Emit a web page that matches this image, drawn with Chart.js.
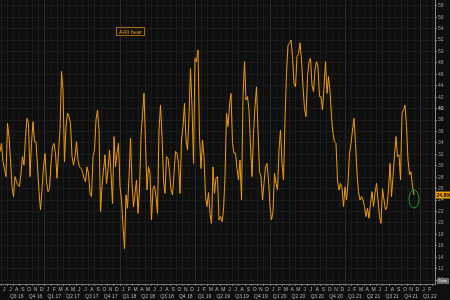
<!DOCTYPE html>
<html lang="en">
<head>
<meta charset="UTF-8" />
<title>AAII bear</title>
<script src="https://cdn.jsdelivr.net/npm/chart.js"></script>
<style>
  html, body { margin: 0; padding: 0; background: #0f0f0f; }
  .chart-box { width: 450px; height: 300px; position: relative; }
</style>
</head>
<body>
<div class="chart-box"><canvas id="bearChart"></canvas></div>
<script>
// weekly AAII bearish reading (%), mid 2016 -> end 2021
const bearValues = [
  32.45, 33.9, 30.7, 29.5, 28.1, 37.4, 35.1, 31.0, 26.35, 24.6,
  28.1, 27.2, 26.6, 26.35, 28.65, 31.6, 30.1, 35.1, 38.3, 37.4,
  28.1, 33.9, 37.7, 34.2, 34.2, 29.8, 25.45, 22.25, 25.75, 29.8,
  32.15, 27.2, 25.45, 26.0, 30.4, 33.3, 33.9, 32.15, 27.8, 32.45,
  36.25, 46.5, 43.25, 30.7, 36.8, 39.2, 38.6, 37.4, 31.6, 30.1,
  31.6, 34.2, 31.0, 29.8, 29.5, 28.95, 27.8, 27.2, 29.8, 28.65,
  25.2, 24.6, 31.6, 32.75, 38.0, 39.75, 36.25, 21.95, 26.35, 29.25,
  31.9, 26.9, 29.25, 32.75, 28.65, 23.4, 35.1, 29.8, 32.15, 33.9,
  26.35, 24.0, 19.35, 15.5, 24.9, 22.55, 28.1, 34.8, 26.9, 22.8,
  25.2, 27.5, 21.65, 25.75, 35.1, 38.9, 42.7, 33.9, 25.75, 29.8,
  28.65,
  20.5, 26.0, 26.5, 24.6, 21.65, 36.25, 40.6, 35.1, 27.5, 25.15,
  31.6, 31.3, 29.0, 25.75, 24.9, 28.65, 32.5, 32.2, 30.4, 25.15,
  34.5, 36.85, 40.9, 34.5, 32.75, 38.6, 47.0, 40.35, 30.4, 48.8,
  48.2, 50.25, 35.1, 29.5, 34.5, 31.6, 24.6, 22.85, 25.3, 21.65,
  19.9, 29.8, 25.15, 27.8, 28.1, 20.5, 21.1, 20.2, 22.25, 28.1,
  39.2, 36.85, 40.6, 42.65, 33.9, 32.2, 32.2, 29.5, 27.5, 31.0,
  24.0, 42.1, 48.2, 41.5, 42.1, 39.75, 33.3, 28.1, 35.65, 40.35,
  43.8, 36.25, 28.95, 28.1, 24.0, 26.9, 29.8, 30.4, 27.5, 22.85,
  20.5, 21.95, 28.65, 26.9, 25.75, 32.75, 36.25, 30.4, 27.5, 38.0,
  46.15, 51.1, 51.4, 52.0, 49.1, 44.4, 43.8, 49.1, 49.6, 51.5,
  48.5, 43.8, 40.0, 38.6, 45.6, 48.2, 48.8, 44.1, 42.95, 46.75,
  48.2, 47.3, 42.1, 42.1, 39.75, 43.8, 48.2, 42.65, 45.6, 42.95,
  38.6, 35.65, 34.2, 33.9, 27.5, 25.75, 26.9, 26.0, 22.85, 26.3,
  24.0, 26.9, 32.2, 33.9, 36.25, 38.3, 33.9, 28.65, 25.45, 24.0,
  24.6, 24.0, 22.85, 21.1, 22.55, 20.8, 23.4, 25.45, 22.85, 25.15,
  26.9, 24.0, 21.1, 19.9, 26.0, 24.0, 22.25, 22.85, 26.0, 30.4,
  24.6, 28.1, 31.9, 35.1, 31.6, 31.9, 27.5, 39.2, 39.75, 40.6,
  36.85, 31.0, 28.4, 28.95, 26.3, 24.87
];

const yTicks = [10, 12, 14, 16, 18, 20, 22, 24, 26, 28, 30, 32, 34, 36, 38, 40, 42, 44, 46, 48, 50, 52, 54, 56, 58];
const monthLetters = ['J', 'F', 'M', 'A', 'M', 'J', 'J', 'A', 'S', 'O', 'N', 'D'];
const quarterLabels = [
  'Q3 16', 'Q4 16',
  'Q1 17', 'Q2 17', 'Q3 17', 'Q4 17',
  'Q1 18', 'Q2 18', 'Q3 18', 'Q4 18',
  'Q1 19', 'Q2 19', 'Q3 19', 'Q4 19',
  'Q1 20', 'Q2 20', 'Q3 20', 'Q4 20',
  'Q1 21', 'Q2 21', 'Q3 21', 'Q4 21',
  'Q1 22'
];
const seriesName = 'AAII bear';
const lastLabel = '24.869';
const firstMonth = 5;   // axis starts in June 2016
const monthCount = 69;  // June 2016 .. February 2022

const monthTicks = [];
for (let k = 0; k <= monthCount; k++) monthTicks.push(k);

function monthLabel(k) {
  if (k >= monthCount) return '';
  const m = (firstMonth + k) % 12;
  const q = (m % 3 === 1) ? quarterLabels[(k - 2) / 3] || '' : '';
  return [monthLetters[m], q];
}

const overlay = {
  id: 'overlay',
  beforeDraw(chart) {
    const c = chart.ctx;
    c.save();
    c.fillStyle = '#0f0f0f';
    c.fillRect(0, 0, chart.width, chart.height);
    c.restore();
  },
  afterDraw(chart) {
    const c = chart.ctx;
    const meta = chart.getDatasetMeta(0);
    const last = meta.data[meta.data.length - 1];
    const yScale = chart.scales.y;
    c.save();

    // green ring on latest reading
    c.strokeStyle = '#1c9a2c';
    c.lineWidth = 1;
    c.beginPath();
    c.ellipse(last.x, last.y + 4, 5, 9, 0, 0, Math.PI * 2);
    c.stroke();

    // last value tag on the axis
    const ly = yScale.getPixelForValue(bearValues[bearValues.length - 1]);
    c.fillStyle = '#f0a000';
    c.fillRect(yScale.left + 1, ly - 3.5, 14, 7);
    c.fillStyle = '#000';
    c.font = 'bold 5px "Liberation Sans"';
    c.textBaseline = 'middle';
    c.fillText(lastLabel, yScale.left + 1.5, ly + 0.5);

    // legend box
    c.strokeStyle = '#a06c10';
    c.strokeRect(116.5, 27.5, 28, 8);
    c.fillStyle = '#e89a10';
    c.font = '5.5px "Liberation Sans"';
    c.fillText(seriesName, 119, 32);

    // date box bottom right
    c.fillStyle = '#6c6c6c';
    c.fillRect(437, 278, 12, 6);
    c.fillStyle = '#eee';
    c.font = '4px "Liberation Sans"';
    c.fillText('Date', 438.5, 281.2);

    c.restore();
  }
};

new Chart(document.getElementById('bearChart'), {
  type: 'line',
  data: {
    datasets: [{
      label: seriesName,
      data: bearValues.map((v, i) => ({ x: i, y: v })),
      borderColor: '#ee9c14',
      borderWidth: 1,
      pointRadius: 0,
      tension: 0,
      xAxisID: 'x',
      yAxisID: 'y'
    }]
  },
  options: {
    responsive: true,
    maintainAspectRatio: false,
    animation: false,
    layout: { padding: 0 },
    plugins: {
      legend: { display: false },
      tooltip: { enabled: false }
    },
    scales: {
      x: {
        type: 'linear',
        display: false,
        min: 0,
        max: 290
      },
      xm: {
        type: 'linear',
        position: 'bottom',
        min: -0.17,
        max: 69.32,
        afterBuildTicks: axis => { axis.ticks = monthTicks.map(v => ({ value: v })); },
        afterFit: scale => {
          scale.height = 16;
          scale.paddingLeft = 0;
          scale.paddingRight = 0;
        },
        grid: {
          color: ctx => (ctx.tick && (firstMonth + ctx.tick.value) % 12 === 0) ? '#292929' : '#1a1a1a',
          tickColor: '#777',
          tickLength: 2
        },
        border: { display: true, color: '#777' },
        ticks: {
          autoSkip: false,
          maxRotation: 0,
          padding: 0,
          labelOffset: 3.13,
          color: '#b5b5b5',
          font: { family: 'Liberation Sans', size: 5, lineHeight: 1.4 },
          callback: value => monthLabel(value)
        }
      },
      y: {
        type: 'linear',
        position: 'right',
        min: 9.3,
        max: 59.0,
        afterBuildTicks: axis => { axis.ticks = yTicks.map(v => ({ value: v })); },
        afterFit: scale => {
          scale.width = 15;
          scale.paddingTop = 0;
          scale.paddingBottom = 0;
        },
        grid: {
          color: '#1b1b1b',
          tickColor: '#888',
          tickLength: 2
        },
        border: { display: true, color: '#8a8a8a' },
        ticks: {
          padding: 1,
          color: ctx => ctx.tick.value === 40 ? '#ead6c4' : '#9a9a9a',
          font: { family: 'Liberation Sans', size: 5 }
        }
      }
    }
  },
  plugins: [overlay]
});
</script>
</body>
</html>
